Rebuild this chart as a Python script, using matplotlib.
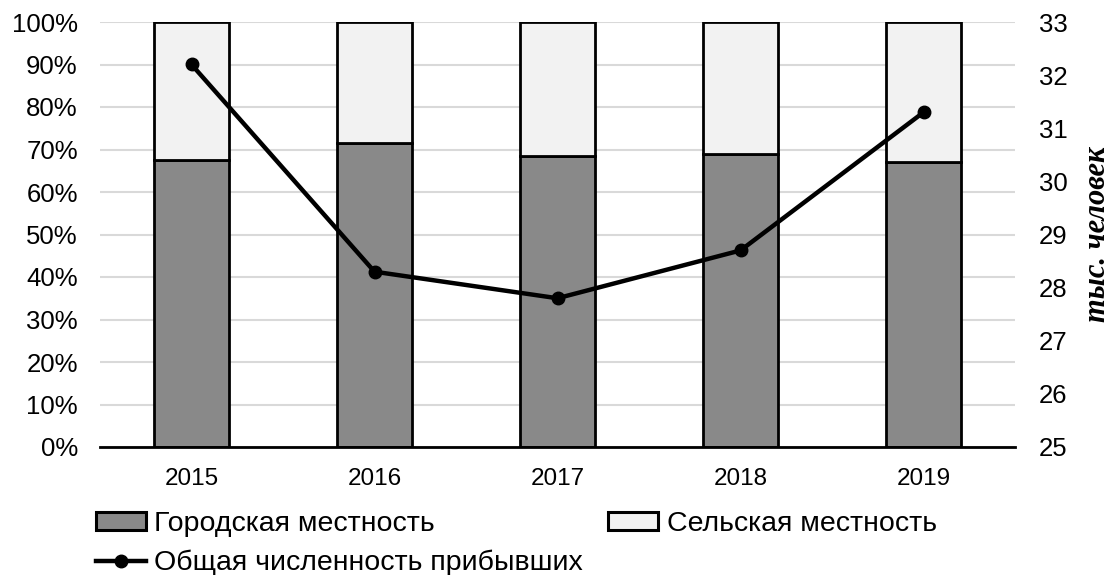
import matplotlib
matplotlib.use("Agg")
import matplotlib.pyplot as plt
from matplotlib.ticker import PercentFormatter
from matplotlib.lines import Line2D
from matplotlib.patches import Patch

years = ["2015", "2016", "2017", "2018", "2019"]
urban_share = [67.5, 71.5, 68.5, 69.0, 67.0]
rural_share = [100 - u for u in urban_share]
total_arrived = [32.2, 28.3, 27.8, 28.7, 31.3]

left_ticks = list(range(0, 101, 10))
right_ticks = list(range(25, 34))

plt.rcParams['font.family'] = ['Liberation Sans', 'DejaVu Sans']

fig = plt.figure(figsize=(11.11, 5.75), dpi=100)
ax = fig.add_axes([100/1111, 1-447/575, 915/1111, 425/575])
x = list(range(len(years)))

ax.bar(x, urban_share, width=0.41, color='#898989', edgecolor='black', linewidth=2, zorder=2)
ax.bar(x, rural_share, bottom=urban_share, width=0.41, color='#f2f2f2', edgecolor='black', linewidth=2, zorder=2)
ax.set_xlim(-0.5, 4.5)
ax.set_ylim(0, 100)
ax.set_yticks(left_ticks)
ax.yaxis.set_major_formatter(PercentFormatter(decimals=0))
ax.set_xticks(x)
ax.set_xticklabels(years)
ax.grid(axis='y', color='#d9d9d9', linewidth=1.5, zorder=0)
ax.set_axisbelow(True)
for s in ['left', 'right', 'top']:
    ax.spines[s].set_visible(False)
ax.spines['bottom'].set_linewidth(2)
ax.spines['bottom'].set_zorder(3)
ax.tick_params(axis='y', length=0, labelsize=18.5, pad=16)
ax.tick_params(axis='x', length=0, labelsize=17.5, pad=15)

ax2 = ax.twinx()
ax2.plot(x, total_arrived, color='black', linewidth=3.2, marker='o', markersize=9, zorder=4)
ax2.set_ylim(25, 33)
ax2.set_yticks(right_ticks)
for s in ['left', 'right', 'top', 'bottom']:
    ax2.spines[s].set_visible(False)
ax2.tick_params(axis='y', length=0, labelsize=18.5, pad=17)
ax2.set_ylabel('тыс. человек', family=['Liberation Serif'], fontweight='bold', style='italic',
               fontsize=22, rotation=90, labelpad=11)

handles = [Patch(facecolor='#898989', edgecolor='black', linewidth=2.2),
           Line2D([0], [0], color='black', linewidth=3.2, marker='o', markersize=9),
           Patch(facecolor='#f2f2f2', edgecolor='black', linewidth=2.2)]
labels = ['Городская местность', 'Общая численность прибывших', 'Сельская местность']
fig.legend(handles, labels, ncol=2, loc='upper left', bbox_to_anchor=(96/1111, 1-511/575),
           frameon=False, fontsize=20.5, handlelength=1.75, handleheight=0.55, handletextpad=0.3,
           labelspacing=0.45, columnspacing=0.88, borderaxespad=0, borderpad=0)

fig.savefig('out.png', dpi=100)
